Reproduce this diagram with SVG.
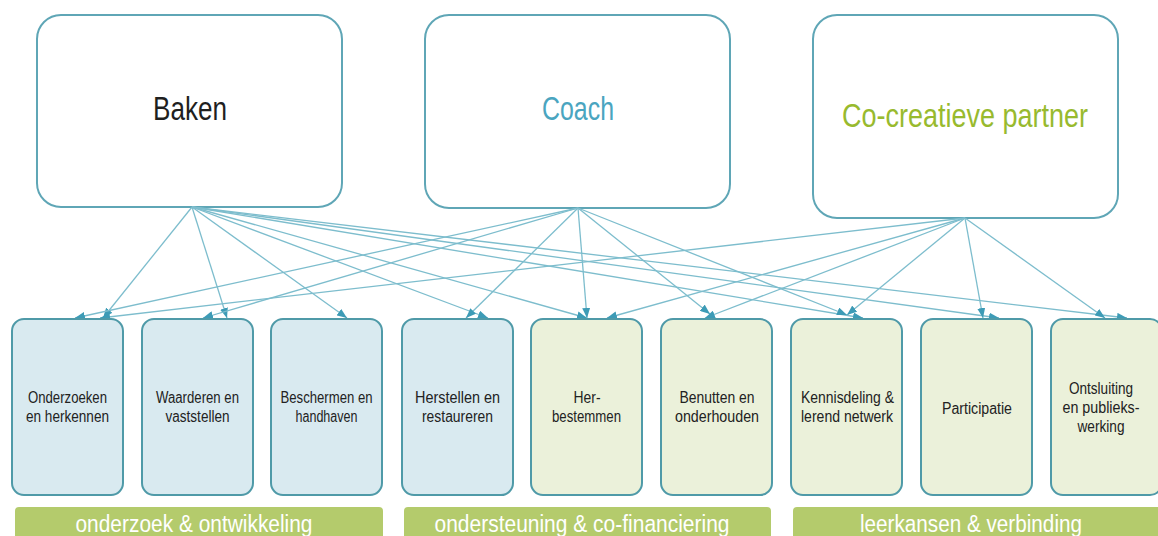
<svg xmlns="http://www.w3.org/2000/svg" width="1158" height="536" viewBox="0 0 1158 536">
<defs>
<style>
.top{fill:#ffffff;stroke:#5fa6b6;stroke-width:2}
.blue{fill:#d9eaf0;stroke:#4f9aa8;stroke-width:2}
.green{fill:#ebf1da;stroke:#4f9aa8;stroke-width:2}
.bar{fill:#b4cb6c}
.t{font-family:"Liberation Sans Narrow","Liberation Sans",Arial,sans-serif;text-anchor:middle}
.big{font-size:34px}
.lbl{font-size:16px;fill:#222222}
.bt{font-size:23px;fill:#ffffff}
.c line{stroke:#7dbdcd;stroke-width:1.3;fill:none;marker-end:url(#ah)}
</style>
<marker id="ah" viewBox="0 0 10 8" refX="10" refY="4" markerWidth="10" markerHeight="8" markerUnits="userSpaceOnUse" orient="auto">
<path d="M0,0 L10,4 L0,8 z" fill="#3d9bb6"/>
</marker>
</defs>
<rect width="1158" height="536" fill="#ffffff"/>

<g id="baken"><rect class="top" x="37" y="15" width="305" height="192" rx="24"/><text class="t big" x="190" y="120" fill="#1f1f1f" textLength="74" lengthAdjust="spacingAndGlyphs">Baken</text></g>
<g id="coach"><rect class="top" x="425" y="15" width="305" height="193" rx="24"/><text class="t big" x="578" y="120" fill="#4aa5c0" textLength="72" lengthAdjust="spacingAndGlyphs">Coach</text></g>
<g id="cocreatief"><rect class="top" x="813" y="15" width="305" height="203" rx="24"/><text class="t big" x="965" y="127" fill="#98ba2e" textLength="246" lengthAdjust="spacingAndGlyphs">Co-creatieve partner</text></g>

<g class="c" id="connectors">
<line x1="192" y1="207" x2="103" y2="318"/>
<line x1="192" y1="207" x2="227" y2="318"/>
<line x1="192" y1="207" x2="347" y2="318"/>
<line x1="192" y1="207" x2="488" y2="318"/>
<line x1="192" y1="207" x2="587" y2="318"/>
<line x1="192" y1="207" x2="863" y2="318"/>
<line x1="192" y1="207" x2="999" y2="318"/>
<line x1="192" y1="207" x2="1127" y2="318"/>
<line x1="578" y1="208" x2="75" y2="318"/>
<line x1="578" y1="208" x2="203" y2="318"/>
<line x1="578" y1="208" x2="466" y2="318"/>
<line x1="578" y1="208" x2="587" y2="318"/>
<line x1="578" y1="208" x2="710" y2="314"/>
<line x1="578" y1="208" x2="847" y2="315"/>
<line x1="965" y1="218" x2="100" y2="318"/>
<line x1="965" y1="218" x2="607" y2="318"/>
<line x1="965" y1="218" x2="705" y2="318"/>
<line x1="965" y1="218" x2="847" y2="315"/>
<line x1="965" y1="218" x2="983" y2="318"/>
<line x1="965" y1="218" x2="1105" y2="318"/>
</g>

<g id="n1"><rect class="blue" x="12" y="319" width="111" height="176" rx="12"/><text class="t lbl" x="67.5" y="403" textLength="79" lengthAdjust="spacingAndGlyphs">Onderzoeken</text><text class="t lbl" x="67.5" y="422" textLength="83" lengthAdjust="spacingAndGlyphs">en herkennen</text></g>
<g id="n2"><rect class="blue" x="142" y="319" width="111" height="176" rx="12"/><text class="t lbl" x="197.5" y="403" textLength="83" lengthAdjust="spacingAndGlyphs">Waarderen en</text><text class="t lbl" x="197.5" y="422" textLength="64" lengthAdjust="spacingAndGlyphs">vaststellen</text></g>
<g id="n3"><rect class="blue" x="271" y="319" width="111" height="176" rx="12"/><text class="t lbl" x="326.5" y="403" textLength="92" lengthAdjust="spacingAndGlyphs">Beschermen en</text><text class="t lbl" x="326.5" y="422" textLength="62" lengthAdjust="spacingAndGlyphs">handhaven</text></g>
<g id="n4"><rect class="blue" x="402" y="319" width="111" height="176" rx="12"/><text class="t lbl" x="457.5" y="403" textLength="85" lengthAdjust="spacingAndGlyphs">Herstellen en</text><text class="t lbl" x="457.5" y="422" textLength="71" lengthAdjust="spacingAndGlyphs">restaureren</text></g>
<g id="n5"><rect class="green" x="531" y="319" width="111" height="176" rx="12"/><text class="t lbl" x="587" y="403" textLength="27" lengthAdjust="spacingAndGlyphs">Her-</text><text class="t lbl" x="586.5" y="422" textLength="69" lengthAdjust="spacingAndGlyphs">bestemmen</text></g>
<g id="n6"><rect class="green" x="661" y="319" width="111" height="176" rx="12"/><text class="t lbl" x="717" y="403" textLength="75" lengthAdjust="spacingAndGlyphs">Benutten en</text><text class="t lbl" x="717" y="422" textLength="84" lengthAdjust="spacingAndGlyphs">onderhouden</text></g>
<g id="n7"><rect class="green" x="791" y="319" width="111" height="176" rx="12"/><text class="t lbl" x="847.5" y="403" textLength="93" lengthAdjust="spacingAndGlyphs">Kennisdeling &amp;</text><text class="t lbl" x="847" y="422" textLength="92" lengthAdjust="spacingAndGlyphs">lerend netwerk</text></g>
<g id="n8"><rect class="green" x="921" y="319" width="111" height="176" rx="12"/><text class="t lbl" x="977" y="414" textLength="70" lengthAdjust="spacingAndGlyphs">Participatie</text></g>
<g id="n9"><rect class="green" x="1051" y="319" width="111" height="176" rx="12"/><text class="t lbl" x="1101" y="394" textLength="64" lengthAdjust="spacingAndGlyphs">Ontsluiting</text><text class="t lbl" x="1101" y="413" textLength="77" lengthAdjust="spacingAndGlyphs">en publieks-</text><text class="t lbl" x="1101" y="432" textLength="47" lengthAdjust="spacingAndGlyphs">werking</text></g>

<g id="bar1"><rect class="bar" x="15" y="507" width="368" height="40" rx="4"/><text class="t bt" x="194" y="532" textLength="237" lengthAdjust="spacingAndGlyphs">onderzoek &amp; ontwikkeling</text></g>
<g id="bar2"><rect class="bar" x="404" y="507" width="367" height="40" rx="4"/><text class="t bt" x="582" y="532" textLength="295" lengthAdjust="spacingAndGlyphs">ondersteuning &amp; co-financiering</text></g>
<g id="bar3"><rect class="bar" x="793" y="507" width="370" height="40" rx="4"/><text class="t bt" x="971" y="532" textLength="222" lengthAdjust="spacingAndGlyphs">leerkansen &amp; verbinding</text></g>
</svg>
